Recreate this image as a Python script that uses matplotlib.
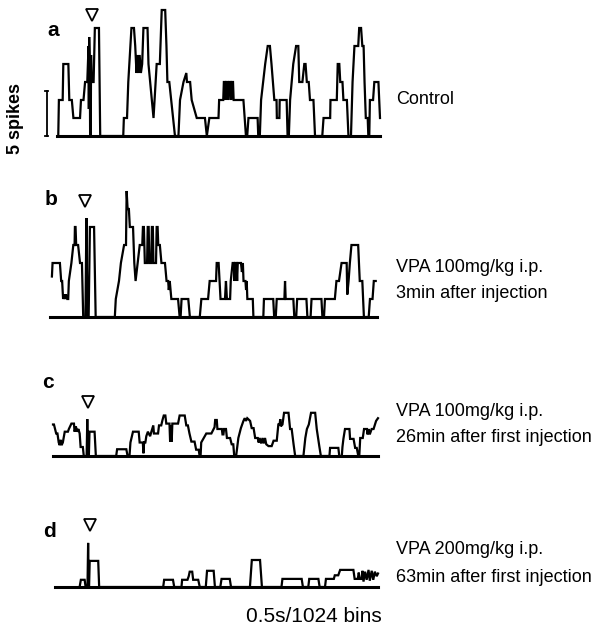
import matplotlib
matplotlib.use('Agg')
import matplotlib.pyplot as plt

W, H = 612, 631
PX_PER_SPIKE = 9

plt.rcParams['font.family'] = ['Liberation Sans', 'DejaVu Sans']

# peri-stimulus histograms, 1024 bins over 0.5 s; vertices read as (bin, spikes)
a_t = [4, 6, 18, 20, 36, 39, 47, 52, 73, 76, 84, 89, 96, 98, 100, 101, 102, 104, 105, 107,
       108, 110, 116, 120, 133, 137, 210, 212, 222, 226, 236, 244, 248, 252, 255, 258, 262,
       266, 270, 274, 287, 290, 306, 316, 326, 328, 332, 343, 347, 350, 356, 374, 385, 390,
       401, 410, 412, 422, 427, 443, 469, 475, 483, 512, 514, 527, 529, 533, 535, 537, 541,
       543, 546, 550, 552, 554, 558, 560, 591, 599, 603, 607, 636, 638, 643, 647, 660, 668,
       675, 680, 689, 696, 697, 705, 706, 728, 731, 735, 739, 749, 758, 765, 768, 778, 784,
       788, 792, 798, 802, 813, 818, 841, 845, 866, 867, 887, 890, 895, 898, 905, 908, 919,
       924, 932, 937, 943, 955, 958, 964, 968, 972, 975, 979, 985, 987, 990, 992, 1002, 1006,
       1019, 1024]
a_n = [0, 4, 4, 8, 8, 4, 4, 2, 2, 4, 4, 6, 6, 8, 10, 3, 11, 8, 0, 0,
       9, 6, 6, 12, 12, 0, 0, 2, 2, 6, 12, 12, 10, 7, 9, 7, 9,
       7, 8, 12, 12, 8, 2, 8, 8, 10, 14, 14, 10, 6, 6, 0, 0, 4,
       6, 7, 6, 6, 4, 2, 2, 0, 2, 2, 4, 4, 6, 6, 4, 6, 6,
       4, 6, 6, 4, 6, 6, 4, 4, 0, 0, 2, 2, 0, 0, 4, 8, 10,
       10, 8, 4, 4, 2, 2, 4, 4, 0, 0, 4, 8, 10, 10, 6, 6, 8,
       8, 6, 6, 4, 4, 0, 0, 2, 2, 4, 4, 8, 8, 6, 6, 4, 4,
       0, 0, 6, 10, 10, 12, 12, 10, 10, 6, 2, 2, 0, 0, 4, 4, 6,
       6, 2]

b_t = [6, 8, 31, 35, 38, 41, 44, 47, 50, 54, 57, 59, 67, 73, 77, 78, 80, 82, 88, 94,
       100, 104, 111, 114, 117, 121, 125, 138, 143, 203, 206, 216, 222, 232, 238, 240, 243,
       247, 250, 260, 264, 268, 281, 289, 291, 294, 297, 304, 306, 309, 311, 317, 319, 322,
       324, 332, 334, 337, 339, 344, 349, 360, 365, 370, 372, 375, 380, 401, 406, 409, 412,
       433, 438, 469, 474, 495, 500, 520, 522, 528, 531, 534, 548, 551, 554, 564, 566, 572, 576,
       578, 580, 584, 586, 588, 598, 601, 604, 606, 612, 614, 616, 618, 635, 637, 668, 670,
       699, 702, 707, 710, 734, 736, 738, 762, 765, 771, 774, 803, 806, 816, 819, 850, 853,
       858, 861, 892, 897, 905, 913, 929, 931, 935, 939, 944, 965, 970, 978, 983, 998, 1002,
       1010, 1014, 1020]
b_n = [4.5, 6, 6, 4, 4, 2, 2.5, 2, 2.5, 2, 2, 4, 6, 8, 8, 10, 10, 8, 8, 6,
       6, 0, 0, 11, 0, 0, 10, 10, 0, 0, 2, 4, 6, 8, 8, 14, 12,
       12, 10, 10, 6, 4, 8, 8, 10, 10, 6, 6, 10, 10, 6, 6, 10, 10,
       6, 6, 10, 10, 8, 8, 6, 6, 4, 4, 3, 4, 2, 2, 0, 0, 2,
       2, 0, 0, 2, 2, 4, 4, 6, 6, 4, 2, 2, 4, 2, 2, 4, 6, 6,
       4, 6, 6, 4, 6, 6, 5, 6, 4, 4, 3, 4, 2, 2, 0, 0, 2,
       2, 0, 0, 2, 2, 4, 2, 2, 0, 0, 2, 2, 0, 0, 2, 2, 0,
       0, 2, 2, 4, 4, 6, 6, 2.5, 4, 6, 8, 8, 4, 4, 0, 0, 2,
       2, 4, 4]

c_t = [0, 3, 10, 14, 18, 21, 24, 27, 31, 37, 47, 50, 58, 66, 68, 72, 76, 80, 84, 87,
       94, 97, 106, 108, 110, 113, 115, 131, 135, 199, 202, 231, 235, 241, 244, 252, 270,
       273, 283, 285, 287, 291, 294, 299, 306, 310, 316, 318, 331, 334, 341, 345, 349, 354,
       357, 367, 369, 371, 374, 376, 394, 399, 415, 420, 425, 430, 436, 446, 451, 459, 462,
       465, 467, 475, 483, 499, 509, 511, 516, 518, 532, 534, 537, 539, 545, 548, 558, 563,
       568, 571, 577, 584, 592, 600, 604, 608, 612, 621, 626, 632, 637, 645, 648, 651, 656,
       660, 664, 668, 672, 679, 689, 695, 705, 710, 714, 716, 718, 723, 728, 742, 747, 752,
       758, 763, 789, 795, 800, 806, 813, 826, 831, 839, 844, 871, 873, 899, 902, 910, 912,
       915, 920, 934, 936, 947, 952, 957, 962, 965, 968, 976, 980, 989, 991, 994, 998, 1004,
       1010, 1018, 1024]
c_n = [3.5, 3.5, 2.5, 2.5, 1.5, 1.2, 1.8, 1.2, 1.5, 2.7, 2.7, 3, 3.6, 3.6, 2.7, 3.3, 2.7, 3, 2.5, 1,
       1, 0, 0, 4.1, 0, 0, 2.7, 2.7, 0, 0, 0.75, 0.75, 0, 0, 1.5, 2.7, 2.7,
       1.5, 1.5, 0.3, 1.5, 1.5, 2.2, 2.7, 2.2, 2.7, 3.4, 2.5, 2.5, 3.4, 3.4, 4, 4.5, 4.5,
       3.6, 3.6, 1.6, 3.4, 1.6, 3.6, 3.6, 4.5, 4.5, 3.4, 3.4, 2.5, 1.6, 1.6, 0.7, 0.7, 0,
       0, 1.5, 2, 2.5, 2.5, 3.2, 4, 4, 3, 3, 2.4, 2.4, 3, 3, 2, 2, 1.3,
       1.3, 0, 0, 2, 3.1, 3.9, 4.2, 3.9, 4.2, 3.9, 3.1, 3.1, 2, 2, 1.5, 2, 1.4,
       2, 1.4, 2, 1.3, 1.1, 1.1, 1.7, 1.7, 3.5, 3.5, 4.1, 3.3, 3.5, 4.8, 4.8, 3, 3,
       1.3, 0, 0, 2, 3, 3.5, 4.8, 4.8, 3, 1.1, 0, 0, 0.9, 0.9, 0, 0, 1,
       1.9, 3, 3, 1.9, 1.9, 0.9, 0.9, 0, 0, 2, 2, 3, 3, 2.4, 3, 2.4, 3,
       3, 3.9, 4.2]

d_t = [78, 82, 94, 97, 103, 105, 107, 108, 110, 137, 140, 343, 346, 374, 378, 401, 403, 420,
       424, 427, 435, 438, 454, 459, 478, 482, 503, 507, 524, 528, 554, 558, 618, 624, 650,
       656, 718, 721, 782, 786, 803, 806, 835, 839, 856, 859, 884, 887, 898, 904, 946, 950,
       960, 963, 966, 972, 975, 978, 983, 988, 994, 998, 1004, 1009, 1014, 1020, 1024]
d_n = [0, 0.8, 0.8, 0, 0, 4.9, 0, 0, 2.9, 2.9, 0, 0, 0.8, 0.8, 0, 0, 0.8, 0.8,
       1.2, 1.7, 1.7, 0.8, 0.8, 0, 0, 1.8, 1.8, 0, 0, 0.9, 0.9, 0, 0, 3, 3,
       0, 0, 0.9, 0.9, 0, 0, 0.9, 0.9, 0, 0, 0.9, 0.9, 1.3, 1.3, 1.9, 1.9, 0.9,
       0.9, 1.6, 0.9, 0.9, 1.8, 0.6, 1.7, 0.8, 1.9, 0.7, 1.8, 0.8, 1.7, 1.2, 1.5]

letters = ['a', 'b', 'c', 'd']
conditions = [['Control'],
              ['VPA 100mg/kg i.p.', '3min after injection'],
              ['VPA 100mg/kg i.p.', '26min after first injection'],
              ['VPA 200mg/kg i.p.', '63min after first injection']]
stim_bin = 110
n_bins = 1024
scale_bar_spikes = 5

traces = [(a_t, a_n), (b_t, b_n), (c_t, c_n), (d_t, d_n)]

# layout in reference pixels: x0, x1, baseline y, triangle y, letter (x, y), label y's
layout = [
    dict(x0=57, x1=380, base=136, tri=15, let=(47, 36), lab=[100]),
    dict(x0=50, x1=377, base=317, tri=201, let=(45, 205), lab=[267, 293]),
    dict(x0=53, x1=378, base=456, tri=402, let=(42, 388), lab=[412, 438]),
    dict(x0=55, x1=378, base=587, tri=525, let=(43, 537), lab=[549, 577]),
]

fig = plt.figure(figsize=(W / 100, H / 100), dpi=100)

for (t, n), lay, letter, cond in zip(traces, layout, letters, conditions):
    top = 16
    ax = fig.add_axes([lay['x0'] / W, 1 - lay['base'] / H,
                       (lay['x1'] - lay['x0']) / W, top * PX_PER_SPIKE / H])
    ax.set_xlim(0, n_bins)
    ax.set_ylim(0, top)
    ax.axis('off')
    ax.axhline(0, color='black', lw=2.2, clip_on=False)
    ax.plot(t, n, color='black', lw=1.6, solid_joinstyle='miter', clip_on=False)
    tri_y = (lay['base'] - lay['tri']) / PX_PER_SPIKE
    ax.plot([stim_bin], [tri_y], marker='v', ms=9, mfc='white', mec='black', mew=1.3,
            clip_on=False)
    fig.text(lay['let'][0] / W, 1 - lay['let'][1] / H, letter, fontsize=15,
             fontweight='bold', ha='left', va='baseline')
    for line, y in zip(cond, lay['lab']):
        fig.text(396 / W, 1 - y / H, line, fontsize=13, ha='left', va='center')

    if letter == 'a':
        # 5 spike calibration bar
        bx = -32
        ax.plot([bx, bx], [0, scale_bar_spikes], color='black', lw=1.3, clip_on=False)
        for yy in (0, scale_bar_spikes):
            ax.plot([bx - 5, bx + 5], [yy, yy], color='black', lw=1.3, clip_on=False)

fig.text(15 / W, 1 - 118 / H, '5 spikes', rotation=90, fontsize=13, fontweight='bold',
         ha='center', va='center')
fig.text(314 / W, 1 - 617 / H, '0.5s/1024 bins', fontsize=15, ha='center', va='center')

fig.savefig('out.png', dpi=100)
